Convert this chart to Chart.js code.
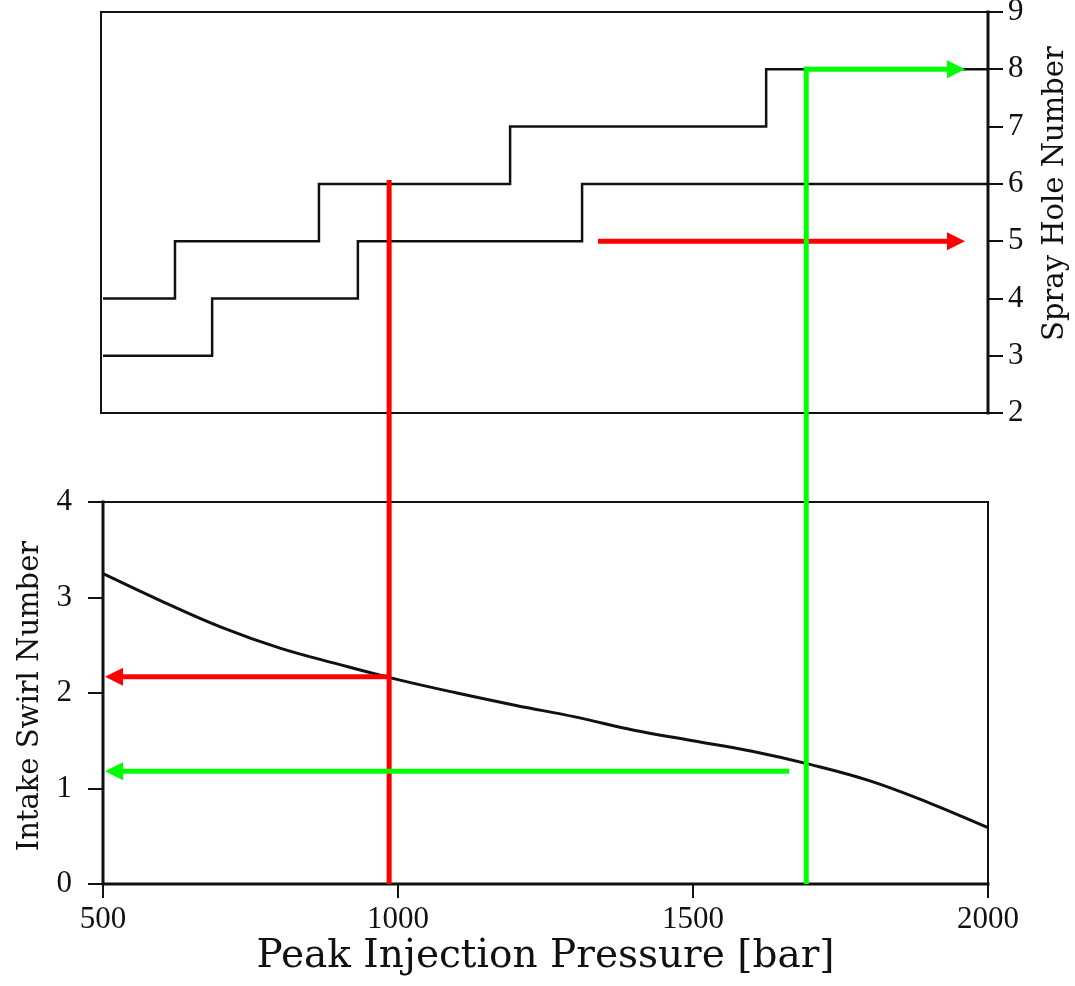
<!DOCTYPE html>
<html>
<head>
<meta charset="utf-8">
<title>Spray hole number and intake swirl vs. peak injection pressure</title>
<script src="https://cdn.jsdelivr.net/npm/chart.js@4/dist/chart.umd.min.js"></script>
<style>
  html, body { margin: 0; padding: 0; background: #fff; }
  #wrap { width: 1075px; height: 986px; }
</style>
</head>
<body>
<div id="wrap"><canvas id="chart" width="1075" height="986"></canvas></div>
<script>
// Peak injection pressure [bar] at which each hole-count line steps up
const upperStepPressure = [500, 622, 866, 1190, 1624, 2000];
const upperStepHoles    = [4, 5, 6, 7, 8, 8];
const lowerStepPressure = [500, 685, 932, 1312, 2000];
const lowerStepHoles    = [3, 4, 5, 6, 6];

// Intake swirl number curve
const swirlPressure = [500, 600, 700, 800, 900, 1000, 1100, 1200, 1300, 1400, 1500, 1600, 1700, 1800, 1900, 2000];
const swirlNumber   = [3.25, 2.96, 2.69, 2.47, 2.30, 2.14, 2.00, 1.87, 1.75, 1.61, 1.50, 1.39, 1.25, 1.08, 0.85, 0.59];

// Tick labels
const pressureTicks = [500, 1000, 1500, 2000];
const holeTicks = [2, 3, 4, 5, 6, 7, 8, 9];
const swirlTicks = [0, 1, 2, 3, 4];

// Read-off guides: red case (985 bar) and green case (1692 bar)
const guidePressure = [985, 1692];
const guideColor = ['#ff0000', '#00ff00'];
const guideHoleTop = [6.07, 8];          // where the vertical guide meets the hole lines
const guideHoleArrowFrom = [1339, 1692]; // start of the arrow to the hole-number axis
const guideHoleArrowAt = [5, 8];
const guideHoleArrowTip = 1961;
const guideSwirlArrowFrom = [985, 1663];
const guideSwirlArrowAt = [2.17, 1.18];

// share of the plot height used by each panel
const HOLE_SHARE = 0.46;
const SWIRL_SHARE = 0.438;

const INK = '#111111';
const tickFont = { family: 'Liberation Serif', size: 31 };
const titleFont = 'DejaVu Serif';

function pts(xs, ys) {
  return xs.map((x, i) => ({ x: x, y: ys[i] }));
}

function fixedTicks(values) {
  return scale => { scale.ticks = values.map(v => ({ value: v })); };
}

// keep tick labels from pushing the plot area inwards
function noLabelPadding(scale) {
  scale.paddingTop = 0;
  scale.paddingBottom = 0;
  scale.paddingLeft = 0;
  scale.paddingRight = 0;
}

function arrow(ctx, x0, y0, x1, y1, color) {
  const dir = Math.sign(x1 - x0);
  const head = 18, half = 9;
  ctx.save();
  ctx.strokeStyle = color;
  ctx.fillStyle = color;
  ctx.lineWidth = 5;
  ctx.beginPath();
  ctx.moveTo(x0, y0);
  ctx.lineTo(x1 - dir * head, y1);
  ctx.stroke();
  ctx.beginPath();
  ctx.moveTo(x1, y1);
  ctx.lineTo(x1 - dir * head, y1 - half);
  ctx.lineTo(x1 - dir * head, y1 + half);
  ctx.closePath();
  ctx.fill();
  ctx.restore();
}

function verticalTitle(ctx, text, cx, cy) {
  ctx.save();
  ctx.fillStyle = INK;
  ctx.font = '29px "' + titleFont + '"';
  ctx.textAlign = 'center';
  ctx.textBaseline = 'middle';
  ctx.translate(cx, cy);
  ctx.rotate(-Math.PI / 2);
  ctx.fillText(text, 0, 0);
  ctx.restore();
}

const panelPlugin = {
  id: 'panels',
  beforeDatasetsDraw(chart) {
    const { ctx, scales } = chart;
    const x = scales.x, yH = scales.yHoles, yS = scales.ySwirl;
    const l = x.getPixelForValue(500), r = x.getPixelForValue(2000);
    ctx.save();
    ctx.strokeStyle = INK;
    ctx.lineCap = 'square';

    // upper panel: thin frame, heavy right axis
    const hTop = yH.getPixelForValue(9), hBot = yH.getPixelForValue(2);
    ctx.lineWidth = 2;
    ctx.beginPath();
    ctx.moveTo(r, hTop); ctx.lineTo(l - 2, hTop); ctx.lineTo(l - 2, hBot); ctx.lineTo(r, hBot);
    ctx.stroke();
    ctx.lineWidth = 3;
    ctx.beginPath();
    ctx.moveTo(r, hTop); ctx.lineTo(r, hBot);
    ctx.stroke();

    // lower panel: thin top/right, heavy left and bottom axes
    const sTop = yS.getPixelForValue(4), sBot = yS.getPixelForValue(0);
    ctx.lineWidth = 2;
    ctx.beginPath();
    ctx.moveTo(l, sTop); ctx.lineTo(r, sTop); ctx.lineTo(r, sBot);
    ctx.stroke();
    ctx.lineWidth = 3;
    ctx.beginPath();
    ctx.moveTo(l, sTop); ctx.lineTo(l, sBot); ctx.lineTo(r, sBot);
    ctx.stroke();
    ctx.restore();
  },
  afterDatasetsDraw(chart) {
    const { ctx, scales } = chart;
    const x = scales.x, yH = scales.yHoles, yS = scales.ySwirl;
    guidePressure.forEach((p, i) => {
      const c = guideColor[i];
      const px = x.getPixelForValue(p);
      ctx.save();
      ctx.strokeStyle = c;
      ctx.lineWidth = 5;
      ctx.beginPath();
      ctx.moveTo(px, yS.getPixelForValue(0));
      ctx.lineTo(px, yH.getPixelForValue(guideHoleTop[i]) - (i === 1 ? 2.5 : 0));
      ctx.stroke();
      ctx.restore();

      const hy = yH.getPixelForValue(guideHoleArrowAt[i]);
      arrow(ctx, x.getPixelForValue(guideHoleArrowFrom[i]) - (i === 1 ? 2.5 : 0), hy,
            x.getPixelForValue(guideHoleArrowTip), hy, c);
      const sy = yS.getPixelForValue(guideSwirlArrowAt[i]);
      arrow(ctx, x.getPixelForValue(guideSwirlArrowFrom[i]), sy,
            x.getPixelForValue(500) + 2, sy, c);
    });
  },
  afterDraw(chart) {
    const { ctx, scales } = chart;
    const yH = scales.yHoles, yS = scales.ySwirl;
    verticalTitle(ctx, 'Intake Swirl Number', 30,
      (yS.getPixelForValue(0) + yS.getPixelForValue(4)) / 2 + 3);
    verticalTitle(ctx, 'Spray Hole Number', 1055,
      (yH.getPixelForValue(2) + yH.getPixelForValue(9)) / 2 - 19);
  }
};

const tickGrid = len => ({
  drawOnChartArea: false,
  drawTicks: true,
  tickLength: len,
  color: INK,
  lineWidth: 2
});

const plainNumber = v => String(v);

new Chart(document.getElementById('chart'), {
  type: 'line',
  data: {
    datasets: [
      {
        label: 'Spray holes (upper)',
        data: pts(upperStepPressure, upperStepHoles),
        yAxisID: 'yHoles',
        stepped: true,
        borderColor: INK,
        borderWidth: 2.5,
        pointRadius: 0
      },
      {
        label: 'Spray holes (lower)',
        data: pts(lowerStepPressure, lowerStepHoles),
        yAxisID: 'yHoles',
        stepped: true,
        borderColor: INK,
        borderWidth: 2.5,
        pointRadius: 0
      },
      {
        label: 'Intake swirl number',
        data: pts(swirlPressure, swirlNumber),
        yAxisID: 'ySwirl',
        tension: 0.4,
        borderColor: INK,
        borderWidth: 3,
        pointRadius: 0
      }
    ]
  },
  options: {
    responsive: false,
    animation: false,
    layout: { padding: { top: 12, left: 0, right: 0, bottom: 0 } },
    plugins: {
      legend: { display: false },
      tooltip: { enabled: false }
    },
    scales: {
      x: {
        type: 'linear',
        min: 500,
        max: 2000,
        afterBuildTicks: fixedTicks(pressureTicks),
        ticks: { font: tickFont, color: INK, padding: 3, maxRotation: 0, callback: plainNumber },
        grid: tickGrid(14),
        border: { display: false },
        title: {
          display: true,
          text: 'Peak Injection Pressure [bar]',
          color: INK,
          font: { family: titleFont, size: 39 },
          padding: { top: 0, bottom: 6 }
        },
        afterFit: s => { s.height = 102; noLabelPadding(s); }
      },
      ySwirl: {
        type: 'linear',
        position: 'left',
        min: 0,
        max: 4 / SWIRL_SHARE,
        afterBuildTicks: fixedTicks(swirlTicks),
        ticks: { font: tickFont, color: INK, padding: 16, callback: plainNumber },
        grid: tickGrid(15),
        border: { display: false },
        afterFit: s => { s.width = 103; noLabelPadding(s); }
      },
      yHoles: {
        type: 'linear',
        position: 'right',
        min: 9 - 7 / HOLE_SHARE,
        max: 9,
        afterBuildTicks: fixedTicks(holeTicks),
        ticks: { font: tickFont, color: INK, padding: 5, callback: plainNumber },
        grid: tickGrid(15),
        border: { display: false },
        afterFit: s => { s.width = 87; noLabelPadding(s); }
      }
    }
  },
  plugins: [panelPlugin]
});
</script>
</body>
</html>
